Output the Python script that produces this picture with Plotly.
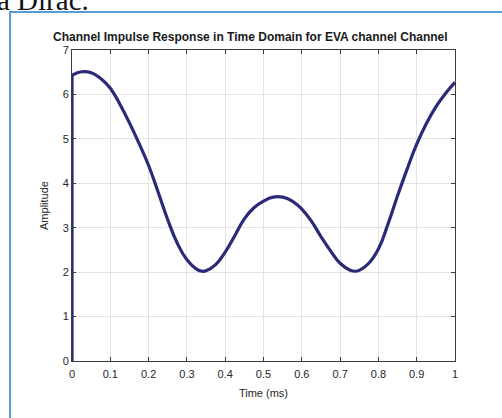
import plotly.graph_objects as go

# Data
time_ms = [0.000, 0.025, 0.050, 0.075, 0.100, 0.125, 0.150, 0.175, 0.200, 0.225,
           0.250, 0.275, 0.300, 0.325, 0.340, 0.350, 0.375, 0.400, 0.425, 0.450,
           0.475, 0.500, 0.525, 0.550, 0.575, 0.600, 0.625, 0.650, 0.675, 0.700,
           0.725, 0.740, 0.750, 0.775, 0.800, 0.825, 0.850, 0.875, 0.900, 0.925,
           0.950, 0.975, 1.000]
amplitude = [6.43, 6.51, 6.49, 6.36, 6.14, 5.78, 5.36, 4.90, 4.40, 3.80,
             3.18, 2.65, 2.28, 2.07, 2.02, 2.03, 2.17, 2.45, 2.82, 3.20,
             3.45, 3.60, 3.69, 3.69, 3.60, 3.42, 3.15, 2.80, 2.48, 2.20,
             2.05, 2.02, 2.04, 2.20, 2.52, 3.08, 3.72, 4.32, 4.88, 5.34,
             5.72, 6.02, 6.27]
# initial jump at t = 0
jump_t = [0.0, 0.0]
jump_amp = [0.0, 6.43]

x_ticks = [0, 0.1, 0.2, 0.3, 0.4, 0.5, 0.6, 0.7, 0.8, 0.9, 1]
x_tick_text = ["0", "0.1", "0.2", "0.3", "0.4", "0.5", "0.6", "0.7", "0.8", "0.9", "1"]
y_ticks = [0, 1, 2, 3, 4, 5, 6, 7]

title_text = "Channel Impulse Response in Time Domain for EVA channel Channel"
x_label = "Time (ms)"
y_label = "Amplitude"

line_color = "#2a2a78"
axis_color = "#3c3c3c"
grid_color = "#e2e2e2"
font_fam = "Liberation Sans, Arial, sans-serif"

fig = go.Figure()
fig.add_trace(go.Scatter(x=jump_t, y=jump_amp, mode="lines",
                         line=dict(color=line_color, width=3.2), showlegend=False,
                         hoverinfo="skip"))
fig.add_trace(go.Scatter(x=time_ms, y=amplitude, mode="lines",
                         line=dict(color=line_color, width=3.2, shape="spline", smoothing=1.3),
                         showlegend=False))

W, H = 502, 418
L, R, T, B = 72, 47, 50, 57
pw = W - L - R
ph = H - T - B

def px2x(px):
    return (px - L) / pw

def py2y(py):
    return (H - B - py) / ph

axis_common = dict(
    showgrid=True, gridcolor=grid_color, gridwidth=1,
    showline=True, linecolor=axis_color, linewidth=1, mirror="ticks",
    ticks="inside", ticklen=4, tickcolor=axis_color, tickwidth=1,
    zeroline=False, automargin=False,
    tickfont=dict(family=font_fam, size=11, color="#262626"),
)

fig.update_layout(
    width=W, height=H,
    margin=dict(l=L, r=R, t=T, b=B, autoexpand=False),
    paper_bgcolor="white", plot_bgcolor="white",
    font=dict(family=font_fam, color="#262626"),
    title=dict(text="<b>" + title_text + "</b>", x=px2x(263), xanchor="center",
               y=1 - 37 / H, yanchor="middle", automargin=False,
               font=dict(family=font_fam, size=12, color="#1a1a1a")),
    xaxis=dict(range=[0, 1], tickvals=x_ticks, ticktext=x_tick_text,
               ticklabelstandoff=3,
               title=dict(text=x_label, font=dict(size=11, color="#262626"), standoff=10),
               **axis_common),
    yaxis=dict(range=[0, 7], tickvals=y_ticks,
               title=dict(text=y_label, font=dict(size=11, color="#262626"), standoff=11),
               **axis_common),
    shapes=[dict(type="rect", xref="paper", yref="paper",
                 x0=px2x(10), x1=px2x(520), y0=py2y(440), y1=py2y(12),
                 line=dict(color="#5b9bd5", width=2), fillcolor="rgba(0,0,0,0)",
                 layer="below")],
    annotations=[dict(text="a Dirac.", xref="paper", yref="paper",
                      x=px2x(-5), xanchor="left", y=py2y(-18), yanchor="top",
                      showarrow=False,
                      font=dict(family="Liberation Serif, Times New Roman, serif",
                                size=29, color="#111111"))],
)

fig.write_html("out.html", config={"displayModeBar": False},
               post_script="document.body.style.margin='0';document.body.style.overflow='hidden';")
